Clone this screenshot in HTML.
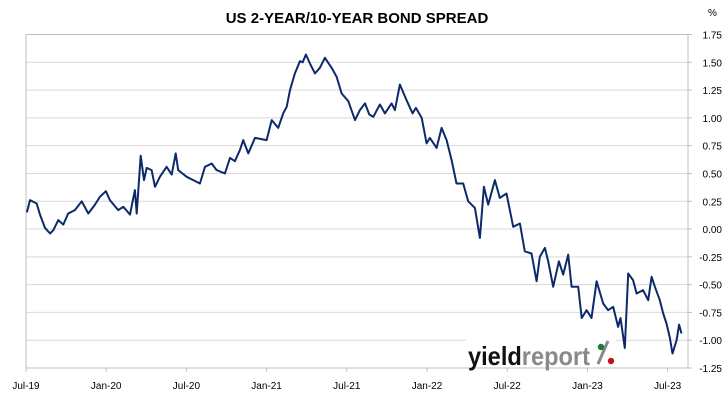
<!DOCTYPE html>
<html><head><meta charset="utf-8"><style>
body{margin:0;background:#fff;width:727px;height:400px;overflow:hidden;font-family:"Liberation Sans",sans-serif}
svg text{font-family:"Liberation Sans",sans-serif}
</style></head><body>
<svg id="chart" width="727" height="400" xmlns="http://www.w3.org/2000/svg">
<text x="357" y="23" text-anchor="middle" font-size="15" font-weight="bold" fill="#000">US 2-YEAR/10-YEAR BOND SPREAD</text>
<text x="708" y="16" font-size="10" fill="#000">%</text>
<g id="grid"></g><g id="axes"></g><g id="series"></g>
<g>
<rect x="466" y="338" width="150" height="29" fill="#fff"/>
<text x="468" y="365" font-size="26" font-weight="bold" textLength="122" lengthAdjust="spacingAndGlyphs"><tspan fill="#111">yield</tspan><tspan fill="#8a8a8a">report</tspan></text>
<line x1="598" y1="364" x2="608" y2="341" stroke="#8a8a8a" stroke-width="3"/>
<circle cx="601" cy="347" r="3.2" fill="#1a7a3a"/><circle cx="611" cy="361" r="3.2" fill="#c0141c"/>
</g>
</svg>
<script>
const months=[0.07,0.3,0.8,1.05,1.42,1.8,2.04,2.42,2.79,3.16,3.66,4.17,4.66,5.16,5.53,5.98,6.28,6.9,7.28,7.78,8.15,8.28,8.58,8.83,9.03,9.4,9.65,10.02,10.52,10.9,11.2,11.39,12.02,12.51,13.01,13.39,13.89,14.26,14.88,15.26,15.63,16.0,16.25,16.63,17.13,18.0,18.38,18.87,19.24,19.5,19.75,20.12,20.49,20.7,20.94,21.24,21.62,21.99,22.36,22.86,23.24,23.61,24.11,24.61,24.98,25.36,25.68,25.98,26.48,26.85,27.35,27.6,27.97,28.47,28.92,29.17,29.6,29.97,30.22,30.72,31.09,31.47,31.84,32.21,32.71,33.08,33.58,33.96,34.26,34.58,35.08,35.45,35.95,36.45,36.95,37.32,37.82,38.2,38.44,38.82,39.07,39.44,39.87,40.19,40.56,40.82,41.31,41.57,41.94,42.31,42.69,43.18,43.55,43.93,44.3,44.48,44.8,45.05,45.42,45.68,46.17,46.55,46.8,47.05,47.42,47.67,47.92,48.17,48.37,48.67,48.86,49.04];
const spread=[0.15,0.26,0.23,0.13,0.01,-0.04,-0.01,0.08,0.04,0.14,0.17,0.25,0.14,0.22,0.29,0.34,0.26,0.17,0.20,0.13,0.35,0.14,0.66,0.44,0.55,0.53,0.38,0.47,0.56,0.49,0.68,0.53,0.47,0.44,0.41,0.56,0.59,0.53,0.50,0.64,0.61,0.71,0.80,0.68,0.82,0.80,0.98,0.91,1.04,1.10,1.25,1.40,1.51,1.50,1.57,1.49,1.40,1.45,1.54,1.45,1.37,1.22,1.15,0.98,1.07,1.13,1.03,1.01,1.12,1.04,1.13,1.07,1.30,1.16,1.04,1.09,1.00,0.77,0.82,0.73,0.91,0.80,0.62,0.41,0.41,0.25,0.19,-0.08,0.38,0.22,0.44,0.28,0.32,0.02,0.05,-0.20,-0.22,-0.47,-0.25,-0.17,-0.29,-0.52,-0.29,-0.41,-0.23,-0.52,-0.52,-0.80,-0.73,-0.80,-0.47,-0.67,-0.73,-0.70,-0.88,-0.80,-1.07,-0.40,-0.46,-0.58,-0.55,-0.64,-0.43,-0.52,-0.64,-0.76,-0.85,-0.98,-1.12,-1.00,-0.86,-0.94,-1.07,-0.92];
const yTicks=[1.75,1.5,1.25,1.0,0.75,0.5,0.25,0,-0.25,-0.5,-0.75,-1.0,-1.25];
const yTickLabels=["1.75","1.50","1.25","1.00","0.75","0.50","0.25","0.00","-0.25","-0.50","-0.75","-1.00","-1.25"];
const xTicks=[0,6,12,18,24,30,36,42,48];
const xTickLabels=["Jul-19","Jan-20","Jul-20","Jan-21","Jul-21","Jan-22","Jul-22","Jan-23","Jul-23"];
const L=26,R=688,T=34.5,B=368;
const xs=m=>L+m*(667.6-L)/48;
const ys=v=>B-(v+1.25)*(B-T)/3;
const NS="http://www.w3.org/2000/svg";
function mk(tag,attrs,parent){const e=document.createElementNS(NS,tag);for(const k in attrs)e.setAttribute(k,attrs[k]);parent.appendChild(e);return e;}
const grid=document.getElementById('grid'),axes=document.getElementById('axes'),series=document.getElementById('series');
yTicks.forEach((v,i)=>{
  if(i>0&&i<yTicks.length-1){const g=mk('line',{x1:L,x2:R,y1:ys(v),y2:ys(v),stroke:'#d9d9d9','stroke-width':1},grid);
  
  }
  const t=mk('text',{x:722,y:ys(v)+4,'text-anchor':'end','font-size':10,fill:'#000'},axes);t.textContent=yTickLabels[i];
  
  
  const tk=mk('line',{x1:R,x2:R+4,y1:ys(v),y2:ys(v),stroke:'#bfbfbf'},axes);
  
  
});
const box=mk('rect',{x:L,y:T,width:R-L,height:B-T,fill:'none',stroke:'#bfbfbf'},axes);


xTicks.forEach((m,i)=>{
  const tk=mk('line',{x1:xs(m),x2:xs(m),y1:B,y2:B+4,stroke:'#bfbfbf'},axes);
  
  
  const t=mk('text',{x:xs(m),y:389,'text-anchor':'middle','font-size':10,fill:'#000'},axes);t.textContent=xTickLabels[i];
  
  
});
const d=months.map((m,i)=>(i?'L':'M')+xs(m).toFixed(1)+' '+ys(spread[i]).toFixed(1)).join(' ');
const p=mk('path',{d:d,fill:'none',stroke:'#0c2a6a','stroke-width':2,'stroke-linejoin':'round'},series);


</script>
</body></html>
